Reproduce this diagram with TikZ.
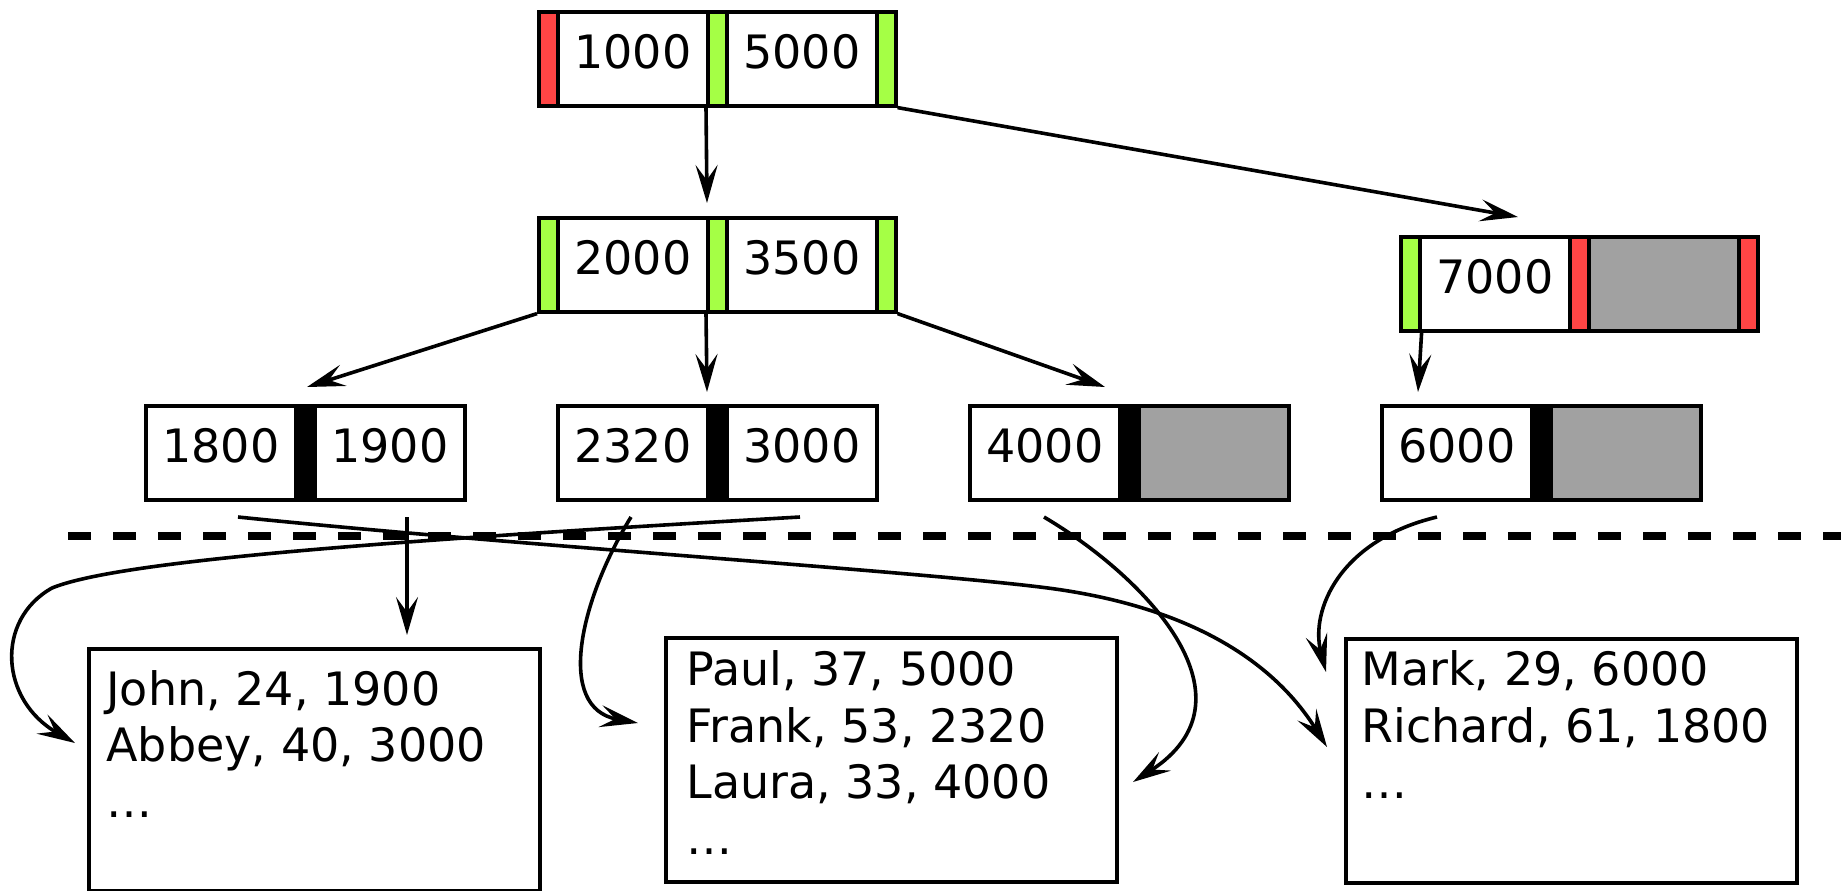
\documentclass[tikz,border=0pt]{standalone}
\usepackage{fontspec}
\setmainfont{DejaVu Sans}
\usetikzlibrary{arrows.meta}
\definecolor{keyred}{RGB}{255,69,69}
\definecolor{keygreen}{RGB}{165,255,69}
\definecolor{emptygray}{RGB}{161,161,161}

\begin{document}
\begin{tikzpicture}[x=0.5pt,y=-0.5pt,
  every node/.style={font=\fontsize{23pt}{28pt}\selectfont},
  cell/.style={draw, line width=1.8pt, inner sep=0pt, anchor=north west,
    minimum width=75pt, minimum height=47pt, text height=28.5pt, text depth=18.5pt},
  bar/.style={cell, minimum width=9.5pt},
  ptr/.style={bar, fill=keygreen},
  nullptr/.style={bar, fill=keyred},
  rec/.style={bar, fill=black},
  free/.style={cell, fill=emptygray},
  page/.style={draw, line width=1.8pt, inner sep=0pt, anchor=north west,
    minimum width=225.5pt, minimum height=122pt},
  row/.style={anchor=base west, inner sep=0pt},
  link/.style={line width=1.8pt, -{Stealth[length=19pt,width=11pt,inset=7.5pt]}},
  sep/.style={line width=4pt, dash pattern=on 11.7pt off 10.8pt}
]
\useasboundingbox (0,0) rectangle (1841,890);

% root node
\node[nullptr] (rn)  at (537,10) {};
\node[cell]    (rk1) at (556,10) {1000};
\node[ptr]     (rp1) at (706,10) {};
\node[cell]    (rk2) at (725,10) {5000};
\node[ptr]     (rp2) at (875,10) {};

% inner node, left
\node[ptr]  (ap0) at (537,216) {};
\node[cell] (ak1) at (556,216) {2000};
\node[ptr]  (ap1) at (706,216) {};
\node[cell] (ak2) at (725,216) {3500};
\node[ptr]  (ap2) at (875,216) {};

% inner node, right
\node[ptr]     (bp0) at (1399,235) {};
\node[cell]    (bk1) at (1418,235) {7000};
\node[nullptr] (bn1) at (1568,235) {};
\node[free]    (bk2) at (1587,235) {};
\node[nullptr] (bn2) at (1737,235) {};

% leaves
\node[cell] (l1a) at (144,404) {1800};
\node[rec]  (l1r) at (294,404) {};
\node[cell] (l1b) at (313,404) {1900};

\node[cell] (l2a) at (556,404) {2320};
\node[rec]  (l2r) at (706,404) {};
\node[cell] (l2b) at (725,404) {3000};

\node[cell] (l3a) at (968,404) {4000};
\node[rec]  (l3r) at (1118,404) {};
\node[free] (l3b) at (1137,404) {};

\node[cell] (l4a) at (1380,404) {6000};
\node[rec]  (l4r) at (1530,404) {};
\node[free] (l4b) at (1549,404) {};

% boundary between index and data
\coordinate (sepL) at (68,536);
\coordinate (sepR) at (1845,536);
\draw[sep] (sepL) -- (sepR);

% data pages
\node[page] (pgA) at (87,647) [minimum height=121pt] {};
\node[row] (a1) at (106,705) {John, 24, 1900};
\node[row] (a2) at (106,761) {Abbey, 40, 3000};
\node[row] (a3) at (106,817) {…};

\node[page] (pgB) at (664,636) {};
\node[row] (b1) at (686,685) {Paul, 37, 5000};
\node[row] (b2) at (686,742) {Frank, 53, 2320};
\node[row] (b3) at (686,798) {Laura, 33, 4000};
\node[row] (b4) at (686,854) {…};

\node[page] (pgC) at (1344,637) {};
\node[row] (c1) at (1361,685) {Mark, 29, 6000};
\node[row] (c2) at (1361,742) {Richard, 61, 1800};
\node[row] (c3) at (1361,798) {…};

% child pointers in the index
\coordinate (tA)  at (707,203);
\coordinate (tB)  at (1518,217);
\coordinate (tL1) at (307,387);
\coordinate (tL2) at (707,392);
\coordinate (tL3) at (1105,387);
\coordinate (tL4) at (1418,392);
\draw[link] (rp1.south west) -- (tA);
\draw[link] (rp2.south east) -- (tB);
\draw[link] (ap0.south west) -- (tL1);
\draw[link] (ap1.south west) -- (tL2);
\draw[link] (ap2.south east) -- (tL3);
\draw[link] (bp0.south east) -- (tL4);

% record pointers from the leaves
\coordinate (s1800) at (238,517);
\coordinate (s1900) at (407,517);
\coordinate (s2320) at (631,517);
\coordinate (s3000) at (800,517);
\coordinate (s4000) at (1044,517);
\coordinate (s6000) at (1437,517);
\coordinate (eJohn)    at (407,635);
\coordinate (eAbbey)   at (75,743);
\coordinate (eFrank)   at (638,723);
\coordinate (eLaura)   at (1133,782);
\coordinate (eRichard) at (1327,747);
\coordinate (eMark)    at (1326,672);
\coordinate (kAbbey)   at (52,588);
\coordinate (kRichard) at (1040,587);

\draw[link] (s1900) -- (eJohn);
\draw[link] (s3000) .. controls (400,540) and (120,560) .. (kAbbey)
  .. controls (-5,620) and (0,700) .. (eAbbey);
\draw[link] (s2320) .. controls (580,600) and (555,708) .. (eFrank);
\draw[link] (s4000) .. controls (1150,580) and (1260,700) .. (eLaura);
\draw[link] (s1800) .. controls (500,544) and (900,570) .. (kRichard)
  .. controls (1190,605) and (1274,662) .. (eRichard);
\draw[link] (s6000) .. controls (1340,540) and (1310,610) .. (eMark);
\end{tikzpicture}
\end{document}
